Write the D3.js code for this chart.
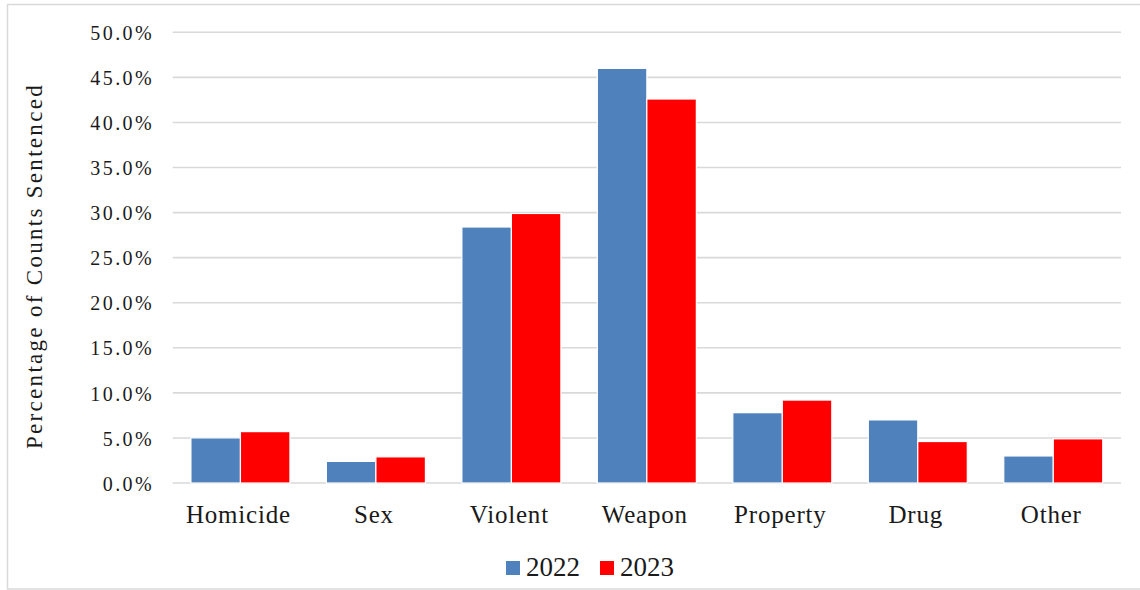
<!DOCTYPE html>
<html>
<head>
<meta charset="utf-8">
<script src="https://cdn.jsdelivr.net/npm/d3@7"></script>
<style>
  html, body { margin: 0; padding: 0; background: #ffffff; }
  svg { display: block; }
</style>
</head>
<body>
<svg id="chart" width="1140" height="590"></svg>
<script>
// Share of counts sentenced by offense category
const categories = ["Homicide", "Sex", "Violent", "Weapon", "Property", "Drug", "Other"];
const seriesNames = ["2022", "2023"];
const values2022 = [0.050, 0.024, 0.284, 0.460, 0.078, 0.070, 0.030];
const values2023 = [0.057, 0.029, 0.299, 0.426, 0.092, 0.046, 0.049];
const yTicks = [0, 0.05, 0.10, 0.15, 0.20, 0.25, 0.30, 0.35, 0.40, 0.45, 0.50];
const colors = ["#4F81BD", "#FF0000"];

const FONT = "'Liberation Serif', 'Times New Roman', serif";
const svg = d3.select("#chart");
const W = 1140;
const plot = { left: 172.7, right: 1121, top: 32.3, bottom: 483 };

// Outer frame
svg.append("rect")
  .attr("x", 7.5).attr("y", 4.5)
  .attr("width", W).attr("height", 584.5)
  .attr("fill", "#ffffff")
  .attr("stroke", "#d9d9d9").attr("stroke-width", 1.5);

const x0 = d3.scaleBand().domain(categories).range([plot.left, plot.right]).paddingInner(0).paddingOuter(0);
const x1 = d3.scaleBand().domain(seriesNames).range([0, 99]);
const y = d3.scaleLinear().domain([0, 0.5]).range([plot.bottom, plot.top]);
const groupOffset = (x0.bandwidth() - 99) / 2;

// Gridlines
svg.append("g").selectAll("line").data(yTicks).join("line")
  .attr("x1", plot.left).attr("x2", plot.right)
  .attr("y1", d => y(d)).attr("y2", d => y(d))
  .attr("stroke", "#d9d9d9").attr("stroke-width", 1.6);

// Y axis labels
const yAxis = d3.axisLeft(y).tickValues(yTicks).tickFormat(d3.format(".1%")).tickSize(0).tickPadding(0);
const gy = svg.append("g").attr("transform", "translate(154,0)").call(yAxis);
gy.select(".domain").remove();
gy.selectAll("text")
  .style("font-family", FONT)
  .attr("font-size", 20)
  .attr("letter-spacing", "2.4px")
  .attr("fill", "#1a1a1a")
  .attr("dy", "0.36em");

// Bars
const rows = categories.map((c, i) => ({ cat: c, vals: [values2022[i], values2023[i]] }));
const groups = svg.append("g").selectAll("g").data(rows).join("g")
  .attr("transform", d => `translate(${x0(d.cat) + groupOffset},0)`);
groups.selectAll("rect")
  .data(d => d.vals.map((v, k) => ({ key: seriesNames[k], v, k })))
  .join("rect")
  .attr("x", d => x1(d.key))
  .attr("width", x1.bandwidth())
  .attr("y", d => y(d.v))
  .attr("height", d => y(0) - y(d.v))
  .attr("fill", d => colors[d.k])
  .attr("stroke", "#ffffff").attr("stroke-width", 1.2);

// X axis category labels
const xAxis = d3.axisBottom(x0).tickSize(0).tickPadding(0);
const gx = svg.append("g").attr("transform", "translate(-2,523.3)").call(xAxis);
gx.select(".domain").remove();
gx.selectAll("text")
  .style("font-family", FONT)
  .attr("font-size", 25)
  .attr("letter-spacing", "0.8px")
  .attr("fill", "#1a1a1a")
  .attr("dy", 0)
  .attr("y", 0);

// Y axis title
svg.append("text")
  .attr("transform", "translate(41.7,266) rotate(-90)")
  .attr("text-anchor", "middle")
  .style("font-family", FONT)
  .attr("font-size", 23)
  .attr("letter-spacing", "2.3px")
  .attr("fill", "#1a1a1a")
  .text("Percentage of Counts Sentenced");

// Legend
const legendX = [506, 600];
const legend = svg.append("g").selectAll("g").data(seriesNames).join("g")
  .attr("transform", (d, i) => `translate(${legendX[i]},0)`);
legend.append("rect")
  .attr("x", 0).attr("y", 561).attr("width", 14).attr("height", 14)
  .attr("fill", (d, i) => colors[i]);
legend.append("text")
  .attr("x", 20).attr("y", 575.7)
  .style("font-family", FONT)
  .attr("font-size", 27)
  .attr("fill", "#1a1a1a")
  .text(d => d);
</script>
</body>
</html>
